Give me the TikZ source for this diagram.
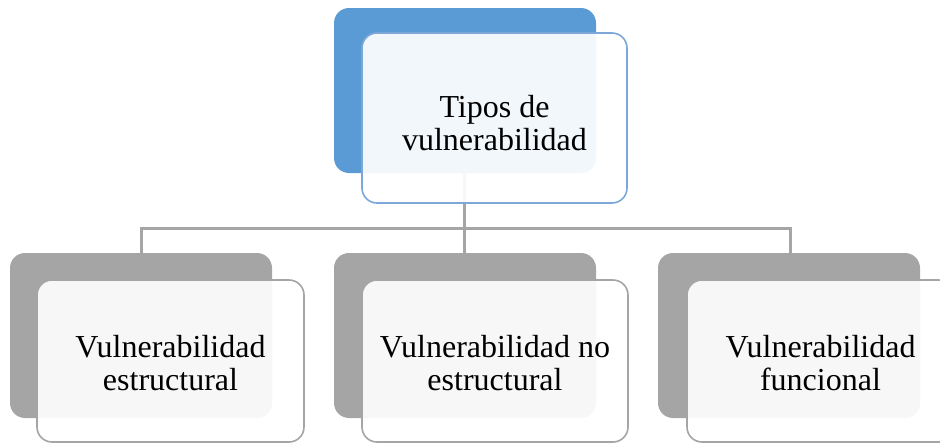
\documentclass[tikz,border=0pt]{standalone}
\usepackage{fontspec}
\setmainfont{Liberation Serif}
\definecolor{backblue}{HTML}{5B9BD5}
\definecolor{edgeblue}{HTML}{7DA7D9}
\definecolor{backgray}{HTML}{A5A5A5}
\tikzset{
  backbox/.style={rounded corners=15pt, line width=0pt},
  frontbox/.style={rounded corners=15pt, line width=1.6pt, fill=white, fill opacity=0.92, draw opacity=1,
    inner sep=0pt},
  boxtext/.style={align=center, font=\fontsize{32}{33}\selectfont, inner sep=0pt},
  conn/.style={draw=backgray, line width=3pt},
}
\begin{document}
\begin{tikzpicture}[x=1pt,y=-1pt]
\useasboundingbox (0,0) rectangle (940,445);
\clip (0,0) rectangle (940,445);
% connectors (behind boxes)
\coordinate (hl) at (141.5,228.5);
\coordinate (hm) at (464.5,228.5);
\coordinate (hr) at (790,228.5);
\coordinate (tl) at (141.5,253);
\coordinate (tm) at (464.5,253);
\coordinate (tr) at (790,253);
\coordinate (ttop) at (464.5,170);
\draw[conn] (ttop) -- (tm);
\draw[conn] (tl) -- (hl) -- (hr) -- (tr);
% top
\fill[backblue, backbox] (334,8) rectangle (596,173);
\node[frontbox, draw=edgeblue, minimum width=265pt, minimum height=170pt] (top) at (494.5,118) {};
\node[boxtext] (topt) at ([yshift=-5pt]top.center) {Tipos de\\vulnerabilidad};
% bottom back boxes
\fill[backgray, backbox] (10,253) rectangle (272,418);
\fill[backgray, backbox] (334,253) rectangle (596,418);
\fill[backgray, backbox] (658,253) rectangle (920,418);
\node[frontbox, draw=backgray, minimum width=267pt, minimum height=162pt] (b1) at (170.5,361) {};
\node[frontbox, draw=backgray, minimum width=266pt, minimum height=162pt] (b2) at (495,361) {};
\node[frontbox, draw=backgray, minimum width=267pt, minimum height=162pt] (b3) at (820.5,361) {};
\node[boxtext] (b1t) at ([yshift=-2pt]b1.center) {Vulnerabilidad\\estructural};
\node[boxtext] (b2t) at ([yshift=-2pt]b2.center) {Vulnerabilidad no\\estructural};
\node[boxtext] (b3t) at ([yshift=-2pt]b3.center) {Vulnerabilidad\\funcional};
\end{tikzpicture}
\end{document}
